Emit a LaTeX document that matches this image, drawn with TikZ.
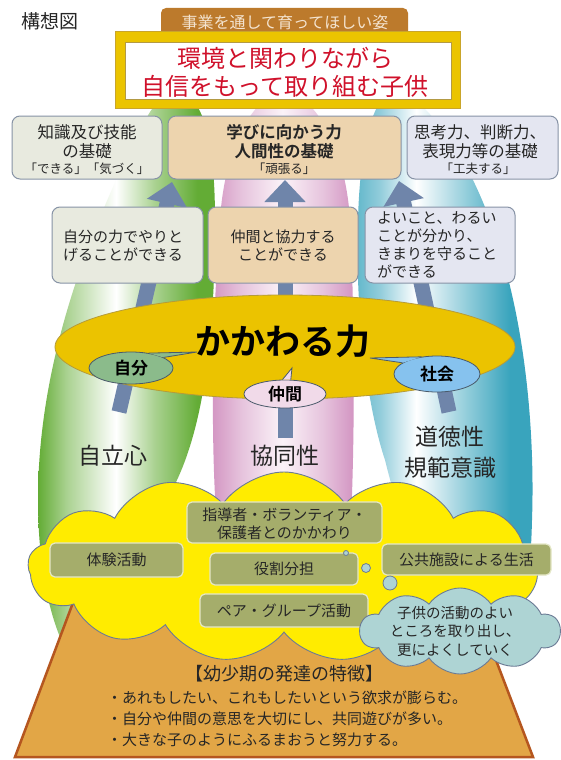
\documentclass[tikz,border=0pt]{standalone}
\usepackage{fontspec}
\setmainfont{Noto Sans CJK JP}[BoldFont={Noto Sans CJK JP Bold}]
\usetikzlibrary{shapes.symbols,shapes.geometric,arrows.meta}
\definecolor{greenP}{HTML}{63AC35}
\definecolor{pinkP}{HTML}{D293C1}
\definecolor{pinkW}{HTML}{FBF3F8}
\definecolor{tealP}{HTML}{39A4BD}
\colorlet{greenM}{greenP!55!white}
\colorlet{pinkM}{pinkP!55!white}
\colorlet{tealM}{tealP!55!white}
\colorlet{tealL}{tealP!80!white}
\definecolor{arrowc}{HTML}{6F85AA}
\definecolor{ellY}{HTML}{EBC300}
\definecolor{ellB}{HTML}{B59B3A}
\definecolor{jibunC}{HTML}{8BBB8B}
\definecolor{nakamaC}{HTML}{F1DAE9}
\definecolor{shakaiC}{HTML}{86C2EE}
\definecolor{bubB}{HTML}{4A5A6A}
\definecolor{boxline}{HTML}{8793A6}
\definecolor{tlF}{HTML}{E8EADF}
\definecolor{tmF}{HTML}{EDD4AE}
\definecolor{trF}{HTML}{E4E6F1}
\definecolor{oliveF}{HTML}{A5AD6B}
\definecolor{oliveB}{HTML}{E4E7C6}
\definecolor{cloudY}{HTML}{FFEC00}
\definecolor{cloudB}{HTML}{6B7B95}
\definecolor{tcloud}{HTML}{AED4D4}
\definecolor{trapF}{HTML}{E2A646}
\definecolor{trapB}{HTML}{B5561F}
\definecolor{tabC}{HTML}{BC7A2C}
\definecolor{tabT}{HTML}{F4E4D0}
\definecolor{frameY}{HTML}{EBC400}
\definecolor{frameB}{HTML}{C9A52A}
\definecolor{titleR}{HTML}{D0112B}
\definecolor{textc}{HTML}{262626}
\pgfdeclarehorizontalshading{petalG}{100bp}{color(0bp)=(greenP); color(25bp)=(greenP); color(33bp)=(greenM); color(47bp)=(white); color(58bp)=(greenM); color(70bp)=(greenP); color(100bp)=(greenP)}
\pgfdeclarehorizontalshading{petalP}{100bp}{color(0bp)=(pinkP); color(25bp)=(pinkP); color(36bp)=(pinkM); color(50bp)=(pinkW); color(64bp)=(pinkM); color(75bp)=(pinkP); color(100bp)=(pinkP)}
\pgfdeclarehorizontalshading{petalT}{100bp}{color(0bp)=(tealL); color(25bp)=(tealL); color(32bp)=(tealM); color(42bp)=(white); color(56bp)=(tealM); color(68bp)=(tealP); color(100bp)=(tealP)}
\newcommand\fsz[2]{\fontsize{#1}{#2}\selectfont}
\begin{document}
\begin{tikzpicture}[x=1pt,y=-1pt,
  box/.style={draw=boxline, line width=1pt, rounded corners=8pt, inner sep=0pt},
  olive/.style={draw=oliveB, fill=oliveF, line width=1.2pt, rounded corners=5pt, inner sep=0pt},
  txt/.style={inner sep=0pt, text=textc},
  arr/.style={line width=15pt, draw=arrowc, -{Triangle[width=40pt,length=22pt]}},
  bub/.style={ellipse, draw=bubB, line width=0.8pt, inner sep=0pt, text=black, font=\bfseries\fsz{17}{20}},
  tail/.style={draw=bubB, line width=0.8pt},
]
\useasboundingbox (0,0) rectangle (561,760);
\fill[white] (0,0) rectangle (561,760);

% petals
\shade[shading=petalG]
  (175,92) .. controls (200,92) and (215,130) .. (215,220)
  .. controls (215,330) and (205,420) .. (177,480)
  .. controls (150,540) and (110,640) .. (90,680)
  .. controls (60,660) and (38,590) .. (38,500)
  .. controls (38,360) and (90,230) .. (140,130)
  .. controls (155,100) and (165,92) .. (175,92) -- cycle;
\shade[shading=petalP]
  (284,92) .. controls (310,92) and (345,140) .. (350,220)
  .. controls (355,320) and (355,450) .. (350,540)
  .. controls (345,580) and (225,580) .. (218,540)
  .. controls (210,450) and (212,320) .. (220,220)
  .. controls (225,140) and (258,92) .. (284,92) -- cycle;
\shade[shading=petalT]
  (395,92) .. controls (420,92) and (470,150) .. (500,250)
  .. controls (525,330) and (535,430) .. (532,520)
  .. controls (530,600) and (520,660) .. (480,660)
  .. controls (440,660) and (400,520) .. (385,460)
  .. controls (365,400) and (355,300) .. (358,220)
  .. controls (360,140) and (375,92) .. (395,92) -- cycle;

% trapezoid (top edge hidden under the clouds)
\draw[fill=trapF, draw=trapB, line width=2.5pt, line join=miter]
  (74,600) -- (473,600) -- (533,757) -- (15,757) -- cycle;

% arrows
\coordinate (l0) at (119,412); \coordinate (l1) at (172,182);
\coordinate (m0) at (285,438); \coordinate (m1) at (285,180);
\coordinate (r0) at (449,412); \coordinate (r1) at (399,181);
\draw[arr] (l0) -- (l1);
\draw[arr] (m0) -- (m1);
\draw[arr] (r0) -- (r1);

% big ellipse
\node[ellipse, fill=ellY, draw=ellB, line width=0.8pt, minimum width=460pt, minimum height=104pt, inner sep=0pt] (kak) at (285,347) {};
\node[txt, text=black, font=\bfseries\fsz{35}{40}] (kakt) at (283,341) {かかわる力};

% small callout ellipses
\node[bub, fill=jibunC, minimum width=84pt, minimum height=32pt] (jibun) at (131,368) {自分};
\coordinate (jt) at (197,352);
\fill[jibunC] (jibun.40) -- (jt) -- (jibun.18) -- cycle;
\draw[tail] (jibun.40) -- (jt) -- (jibun.18);

\node[bub, fill=nakamaC, minimum width=82pt, minimum height=28pt] (nakama) at (285,394) {仲間};
\coordinate (nt) at (292,368);
\fill[nakamaC] (nakama.100) -- (nt) -- (nakama.68) -- cycle;
\draw[tail] (nakama.100) -- (nt) -- (nakama.68);

\node[bub, fill=shakaiC, minimum width=86pt, minimum height=36pt] (shakai) at (437,374) {社会};
\coordinate (st) at (370,358);
\fill[shakaiC] (shakai.162) -- (st) -- (shakai.132) -- cycle;
\draw[tail] (shakai.162) -- (st) -- (shakai.132);

% labels on petals
\node[txt, font=\fsz{23}{28}] (jiritsu) at (113,456) {自立心};
\node[txt, font=\fsz{23}{28}] (kyodo) at (285,456) {協同性};
\node[txt, align=center, font=\fsz{23}{31}] (dotoku) at (450,452) {道徳性\\規範意識};

% middle boxes
\node[box, fill=tlF, minimum width=151pt, minimum height=76pt] (ml) at (127.5,245) {};
\node[box, fill=tmF, minimum width=150pt, minimum height=76pt] (mm) at (283,245) {};
\node[box, fill=trF, minimum width=150pt, minimum height=76pt] (mr) at (440,245) {};
\node[txt, align=center, font=\fsz{15}{18}] (mlt) at (123,246) {自分の力でやりと\\げることができる};
\node[txt, align=center, font=\fsz{15}{18}] (mmt) at (283,246) {仲間と協力する\\ことができる};
\node[txt, align=left, anchor=west, font=\fsz{15}{18}] (mrt) at (377,245) {よいこと、わるい\\ことが分かり、\\きまりを守ること\\ができる};

% top boxes
\node[box, fill=tlF, minimum width=150pt, minimum height=63pt] (tl) at (87,147.5) {};
\node[box, fill=tmF, minimum width=233pt, minimum height=63pt] (tm) at (284.5,147.5) {};
\node[box, fill=trF, minimum width=151pt, minimum height=63pt] (tr) at (482.5,147.5) {};
\node[txt, align=center, font=\fsz{16.5}{19}] (tlt) at (87,141.5) {知識及び技能\\の基礎};
\node[txt, font=\fsz{12.5}{14}] (tls) at (87,169) {「できる」「気づく」};
\node[txt, align=center, font=\bfseries\fsz{16.5}{19}] (tmt) at (284,141.5) {学びに向かう力\\人間性の基礎};
\node[txt, font=\fsz{12.5}{14}] (tms) at (284,169) {「頑張る」};
\node[txt, align=center, font=\fsz{16.5}{19}] (trt) at (480,141.5) {思考力、判断力、\\表現力等の基礎};
\node[txt, font=\fsz{12.5}{14}] (trs) at (478,169) {「工夫する」};

% yellow cloud
\node[cloud, cloud puffs=13, cloud puff arc=110, cloud ignores aspect, fill=cloudY, draw=cloudB, line width=0.9pt, minimum width=512pt, minimum height=190pt, inner sep=0pt] (ycloud) at (284,567) {};
\node[olive, minimum width=133pt, minimum height=34pt] (taiken) at (116.5,560) {};
\node[olive, minimum width=195pt, minimum height=41pt] (shido) at (284.5,522.5) {};
\node[olive, minimum width=148pt, minimum height=32pt] (yakuwari) at (284,569) {};
\node[olive, minimum width=168pt, minimum height=33pt] (pair) at (284,610.5) {};
\node[olive, minimum width=169pt, minimum height=31pt] (kokyo) at (466.5,559.5) {};
\node[txt, font=\fsz{15}{18}] at (taiken) {体験活動};
\node[txt, align=center, font=\fsz{15}{18}] at (284.5,524) {指導者・ボランティア・\\保護者とのかかわり};
\node[txt, font=\fsz{15}{18}] at (yakuwari) {役割分担};
\node[txt, font=\fsz{15}{18}] at (pair) {ペア・グループ活動};
\node[txt, font=\fsz{15}{18}] at (kokyo) {公共施設による生活};

% thought bubbles and teal cloud
\node[circle, fill=tcloud, draw=cloudB, line width=0.8pt, minimum size=5pt, inner sep=0pt] (b1) at (346,553) {};
\node[circle, fill=tcloud, draw=cloudB, line width=0.8pt, minimum size=9pt, inner sep=0pt] (b2) at (366,568) {};
\node[circle, fill=tcloud, draw=cloudB, line width=0.8pt, minimum size=14pt, inner sep=0pt] (b3) at (390,583) {};
\node[cloud, cloud puffs=10, cloud puff arc=110, cloud ignores aspect, fill=tcloud, draw=cloudB, line width=0.9pt, minimum width=200pt, minimum height=86pt, inner sep=0pt] (tcl) at (460,631) {};
\node[txt, align=center, font=\fsz{14.5}{18.5}] (tclt) at (455,631.5) {子供の活動のよい\\ところを取り出し、\\更によくしていく};

% trapezoid text
\node[txt, font=\fsz{18}{22}] (trapt) at (284,674) {【幼少期の発達の特徴】};
\node[txt, align=left, anchor=west, font=\fsz{15}{21}] (trapl) at (107,719) {・あれもしたい、これもしたいという欲求が膨らむ。\\・自分や仲間の意思を大切にし、共同遊びが多い。\\・大きな子のようにふるまおうと努力する。};

% title
\node[txt] (kosozu) at (50,21) {\fsz{19}{22}構想図};
\node[fill=tabC, rounded corners=5pt, minimum width=247pt, minimum height=36pt, inner sep=0pt] (tab) at (284.5,26) {};
\node[txt, text=tabT, font=\fsz{16}{19}] (tabt) at (285,22) {事業を通して育ってほしい姿};
\node[fill=frameY, draw=frameB, line width=0.8pt, minimum width=345pt, minimum height=77pt, inner sep=0pt] (frame) at (287.5,69.5) {};
\node[fill=white, draw=frameB!70!gray, line width=0.6pt, minimum width=326pt, minimum height=57pt, inner sep=0pt] (inner) at (288,70.5) {};
\node[txt, text=titleR, align=center, font=\fsz{24}{28}] (title) at (285,72) {環境と関わりながら\\自信をもって取り組む子供};
\end{tikzpicture}
\end{document}
